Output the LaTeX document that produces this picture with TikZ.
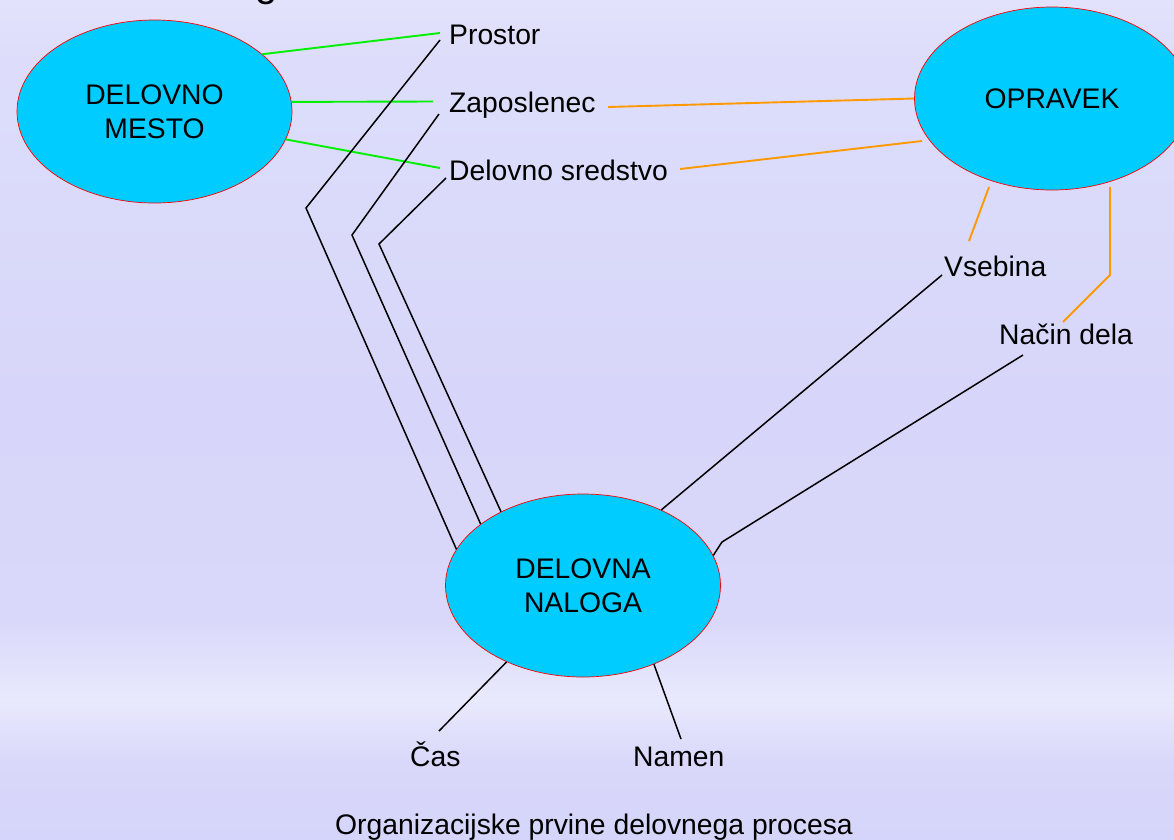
\documentclass[tikz,border=0pt]{standalone}
\usepackage{fontspec}
\setmainfont{Liberation Sans}
\usetikzlibrary{shapes.geometric}
\definecolor{ellfill}{RGB}{0,204,255}
\definecolor{lgreen}{RGB}{0,240,0}
\definecolor{lorange}{RGB}{255,153,0}
\definecolor{bgA}{RGB}{226,226,252}
\definecolor{bgB}{RGB}{221,221,251}
\definecolor{bgC}{RGB}{215,214,250}
\definecolor{bgD}{RGB}{217,216,250}
\definecolor{bgE}{RGB}{233,233,253}
\definecolor{bgF}{RGB}{217,216,250}
\definecolor{bgG}{RGB}{213,212,250}
\begin{document}
\begin{tikzpicture}[x=1pt,y=-1pt,
  ell/.style={ellipse, draw=red, line width=0.7pt, fill=ellfill,
    minimum width=275pt, minimum height=183pt, inner sep=0pt,
    align=center, font=\fontsize{28.3}{34}\selectfont},
  lbl/.style={anchor=base west, inner sep=0pt, font=\fontsize{28.3}{34}\selectfont},
  gline/.style={draw=lgreen, line width=1.9pt},
  oline/.style={draw=lorange, line width=1.9pt},
  bline/.style={draw=black, line width=1.5pt},
  bandst/.style={draw=none}
]
\useasboundingbox (0,0) rectangle (1174,839);
% background
\shade[bandst, top color=bgA, bottom color=bgB] (0,0) rectangle (1174,61);
\shade[bandst, top color=bgB, bottom color=bgC] (0,60) rectangle (1174,401);
\shade[bandst, top color=bgC, bottom color=bgD] (0,400) rectangle (1174,621);
\shade[bandst, top color=bgD, bottom color=bgE] (0,620) rectangle (1174,701);
\shade[bandst, top color=bgE, bottom color=bgF] (0,700) rectangle (1174,761);
\shade[bandst, top color=bgF, bottom color=bgG] (0,760) rectangle (1174,839);

% title fragment (cut off at the top edge, as in the reference)
\node[anchor=base west, inner sep=0pt, font=\fontsize{40}{48}\selectfont] (title) at (255,-4) {g};

% main ellipses
\node[ell] (mesto) at (154.5,111.5) {DELOVNO\\MESTO};
\node[ell] (opravek) at (1052,98.5) {OPRAVEK};
\node[ell] (naloga) at (583,585.5) {DELOVNA\\NALOGA};

% labels
\node[lbl] (prostor) at (449,44) {Prostor};
\node[lbl] (zap) at (449,112) {Zaposlenec};
\node[lbl] (sred) at (449,180) {Delovno sredstvo};
\node[lbl] (vseb) at (944,276) {Vsebina};
\node[lbl] (nacin) at (999,344) {Način dela};
\node[lbl] (cas) at (410,766) {Čas};
\node[lbl] (namen) at (633,766) {Namen};
\node[anchor=base, inner sep=0pt, font=\fontsize{28.3}{34}\selectfont] (caption) at (594,834) {Organizacijske prvine delovnega procesa};

% connector ends and bends
\coordinate (pA) at (440,33);
\coordinate (pB) at (440,40);
\coordinate (zA) at (433,101.5);
\coordinate (zB) at (608,107);
\coordinate (zC) at (439,114);
\coordinate (sA) at (440,168);
\coordinate (sB) at (680,169);
\coordinate (sC) at (446,178);
\coordinate (oA) at (922,141);
\coordinate (oB) at (989,187);
\coordinate (oC) at (1110,187);
\coordinate (oBend) at (1110,275);
\coordinate (vA) at (969,241);
\coordinate (vB) at (942,275);
\coordinate (nA) at (1063,322);
\coordinate (nB) at (1023,355);
\coordinate (b8) at (306,208);
\coordinate (b9) at (352,235);
\coordinate (b10) at (379,244);
\coordinate (b12) at (722,542);
\coordinate (cA) at (439,731);
\coordinate (mA) at (681,739);

% green
\draw[gline] (mesto.28) -- (pA);
\draw[gline] (mesto.4) -- (zA);
\draw[gline] (mesto.-12.7) -- (sA);
% orange
\draw[oline] (zB) -- (opravek.180);
\draw[oline] (sB) -- (oA);
\draw[oline] (oB) -- (vA);
\draw[oline] (oC) -- (oBend) -- (nA);
% black
\draw[bline] (pB) -- (b8) -- (naloga.164.8);
\draw[bline] (zC) -- (b9) -- (naloga.149);
\draw[bline] (sC) -- (b10) -- (naloga.138);
\draw[bline] (vB) -- (naloga.44.8);
\draw[bline] (nB) -- (b12) -- (naloga.13.9);
\draw[bline] (naloga.225.9) -- (cA);
\draw[bline] (naloga.312.1) -- (mA);
\end{tikzpicture}
\end{document}
